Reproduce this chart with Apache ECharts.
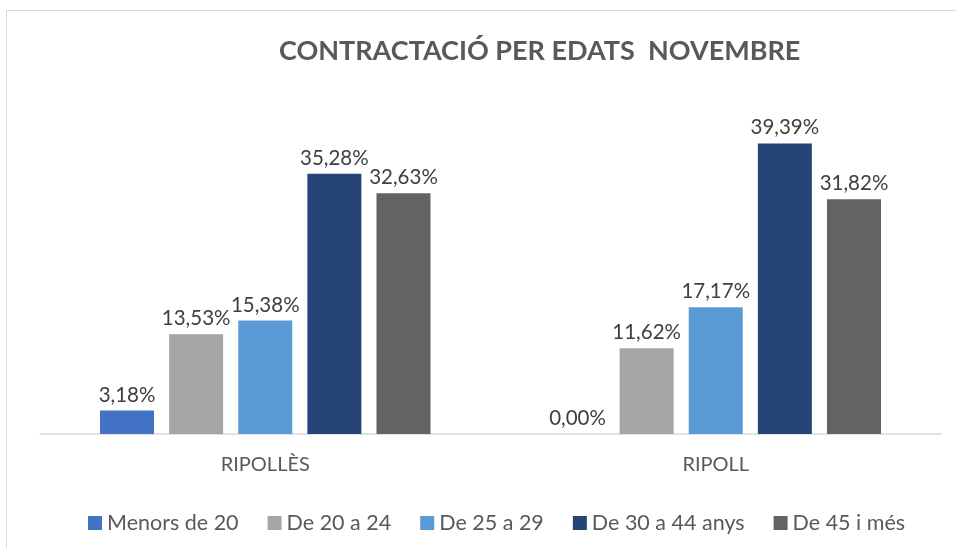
<!DOCTYPE html>
<html>
<head>
<meta charset="utf-8">
<script src="https://cdn.jsdelivr.net/npm/echarts@6/dist/echarts.min.js"></script>
<style>
  html, body { margin: 0; padding: 0; background: #fff; }
  #frame {
    position: absolute; left: 6px; top: 10px; width: 960px; height: 548px;
    border: 1px solid #d9d9d9; box-sizing: border-box;
  }
  #chart { position: absolute; left: 0; top: 0; width: 956px; height: 548px; }
</style>
</head>
<body>
<div id="frame"></div>
<div id="chart"></div>
<script>
const categories = ['RIPOLLÈS', 'RIPOLL']
const seriesNames = ['Menors de 20', 'De 20 a 24', 'De 25 a 29', 'De 30 a 44 anys', 'De 45 i més']
const menors20 = [3.18, 0.0]
const de20a24 = [13.53, 11.62]
const de25a29 = [15.38, 17.17]
const de30a44 = [35.28, 39.39]
const de45 = [32.63, 31.82]
const colors = ['#4472C4', '#A5A5A5', '#5B9BD5', '#264478', '#636363']

const values = [menors20, de20a24, de25a29, de30a44, de45]
const font = 'Lato, "Open Sans", sans-serif'

const chart = echarts.init(document.getElementById('chart'))

chart.setOption({
  animation: false,
  title: {
    text: 'CONTRACTACIÓ PER EDATS  NOVEMBRE',
    left: 274,
    top: 33,
    textStyle: { fontFamily: font, fontSize: 27, fontWeight: 'bold', color: '#595959' },
  },
  legend: {
    left: 83,
    top: 507,
    itemWidth: 14,
    itemHeight: 14,
    itemGap: 29,
    icon: 'rect',
    textStyle: { fontFamily: font, fontSize: 21.5, color: '#595959' },
    data: seriesNames,
  },
  grid: { left: 40, right: 15, top: 102, bottom: 114 },
  xAxis: {
    type: 'category',
    data: categories,
    axisLine: { lineStyle: { color: '#d9d9d9', width: 1.5 } },
    axisTick: { show: false },
    axisLabel: { fontFamily: font, fontSize: 20, color: '#595959', margin: 21 },
  },
  yAxis: {
    type: 'value',
    min: 0,
    max: 45,
    show: false,
    splitLine: { show: false },
  },
  series: seriesNames.map((name, i) => ({
    name,
    type: 'bar',
    data: values[i],
    barWidth: 54,
    barGap: '28%',
    itemStyle: { color: colors[i] },
    label: {
      show: true,
      position: 'top',
      distance: 5,
      fontFamily: font,
      fontSize: 20.5,
      color: '#404040',
      formatter: (p) => p.value.toFixed(2).replace('.', ',') + '%',
    },
  })),
})
</script>
</body>
</html>
